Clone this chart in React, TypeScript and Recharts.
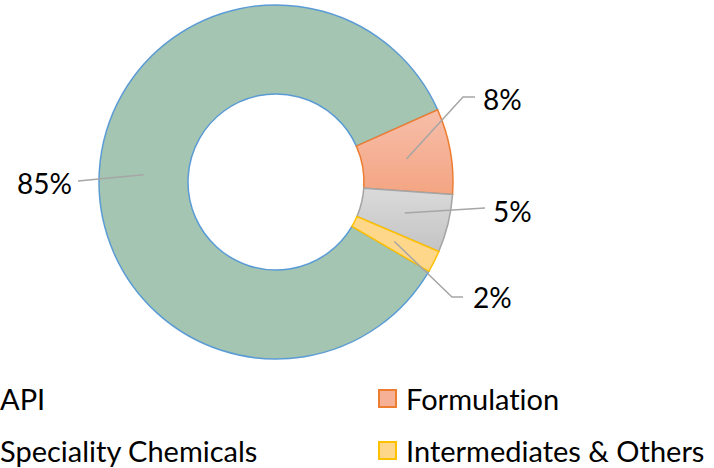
import React from 'react';
import { PieChart, Pie, Cell, Legend } from 'recharts';

const categories = ['API', 'Formulation', 'Speciality Chemicals', 'Intermediates & Others'];
const shares = [84.9, 7.8, 5.3, 2.0];
const labelTexts = ['85%', '8%', '5%', '2%'];

const fills = ['#A3C5B1', 'url(#gOrange)', 'url(#gGray)', '#FFD78A'];
const legendFills = ['#A3C5B1', '#F5B096', '#D0D0D0', '#FFD78A'];
const strokes = ['#5B9BD5', '#ED7D31', '#A5A5A5', '#FFC000'];

const data = categories.map((name, i) => ({ name, value: shares[i], label: labelTexts[i] }));

const FONT = 'Lato, "Open Sans", sans-serif';
const RAD = Math.PI / 180;

// label end offsets relative to chart centre (style only)
const labelGeo = [
  { pts: [[-198, -1]], tx: -204, ty: 1, anchor: 'end' },
  { pts: [[187, -85], [199, -85]], tx: 207, ty: -83, anchor: 'start' },
  { pts: [[209, 26]], tx: 217, ty: 29, anchor: 'start' },
  { pts: [[176, 115], [187, 115]], tx: 197, ty: 115, anchor: 'start' },
];

const renderLabel = (props: any) => {
  const { cx, cy, midAngle, innerRadius, outerRadius, index } = props;
  const r = (innerRadius + outerRadius) / 2;
  const sx = cx + r * Math.cos(-midAngle * RAD);
  const sy = cy + r * Math.sin(-midAngle * RAD);
  const g = labelGeo[index];
  const pts = [[sx, sy], ...g.pts.map(([dx, dy]) => [cx + dx, cy + dy])];
  const d = pts.map((p, i) => `${i === 0 ? 'M' : 'L'}${p[0]},${p[1]}`).join(' ');
  return (
    <g key={`lbl-${index}`}>
      <path d={d} stroke="#A6A6A6" strokeWidth={1.5} fill="none" />
      <text
        x={cx + g.tx}
        y={cy + g.ty}
        textAnchor={g.anchor as any}
        dominantBaseline="central"
        fontFamily={FONT}
        fontSize={28}
        fill="#000"
      >
        {data[index].label}
      </text>
    </g>
  );
};

const renderLegend = () => (
  <div style={{ position: 'relative', width: 714, height: 100, fontFamily: FONT, fontSize: 29, color: '#000', fontVariantLigatures: 'none' }}>
    {categories.map((name, i) => {
      const col = i % 2;
      const row = Math.floor(i / 2);
      const left = col === 0 ? -28 : 378;
      const top = row === 0 ? 398 - 375 : 450 - 375;
      return (
        <div key={name} style={{ position: 'absolute', left, top: top - 17, height: 34, display: 'flex', alignItems: 'center', whiteSpace: 'nowrap' }}>
          <span style={{ display: 'inline-block', width: 15, height: 15, background: legendFills[i], border: `2px solid ${strokes[i]}`, marginRight: 9 }} />
          <span>{name}</span>
        </div>
      );
    })}
  </div>
);

export default function App() {
  return (
    <div style={{ position: 'absolute', left: 0, top: 0, width: 714, height: 468, background: '#fff', overflow: 'hidden' }}>
      <PieChart width={714} height={468} margin={{ top: 0, right: 0, bottom: 0, left: 0 }}>
        <defs>
          <linearGradient id="gOrange" x1="0" y1="0" x2="0" y2="1">
            <stop offset="0%" stopColor="#F7BEAA" />
            <stop offset="100%" stopColor="#F4A582" />
          </linearGradient>
          <linearGradient id="gGray" x1="0" y1="0" x2="0" y2="1">
            <stop offset="0%" stopColor="#DADADA" />
            <stop offset="100%" stopColor="#C4C4C4" />
          </linearGradient>
        </defs>
        <Pie
          data={data}
          dataKey="value"
          nameKey="name"
          cx={276}
          cy={182}
          innerRadius={88}
          outerRadius={177}
          startAngle={-30.3}
          endAngle={-390.3}
          paddingAngle={0}
          label={renderLabel}
          labelLine={false}
          isAnimationActive={false}
        >
          {data.map((d, i) => (
            <Cell key={d.name} fill={fills[i]} stroke={strokes[i]} strokeWidth={1.5} />
          ))}
        </Pie>
        <Legend content={renderLegend} wrapperStyle={{ position: 'absolute', left: 0, top: 375, width: 714, height: 100 }} />
      </PieChart>
    </div>
  );
}
